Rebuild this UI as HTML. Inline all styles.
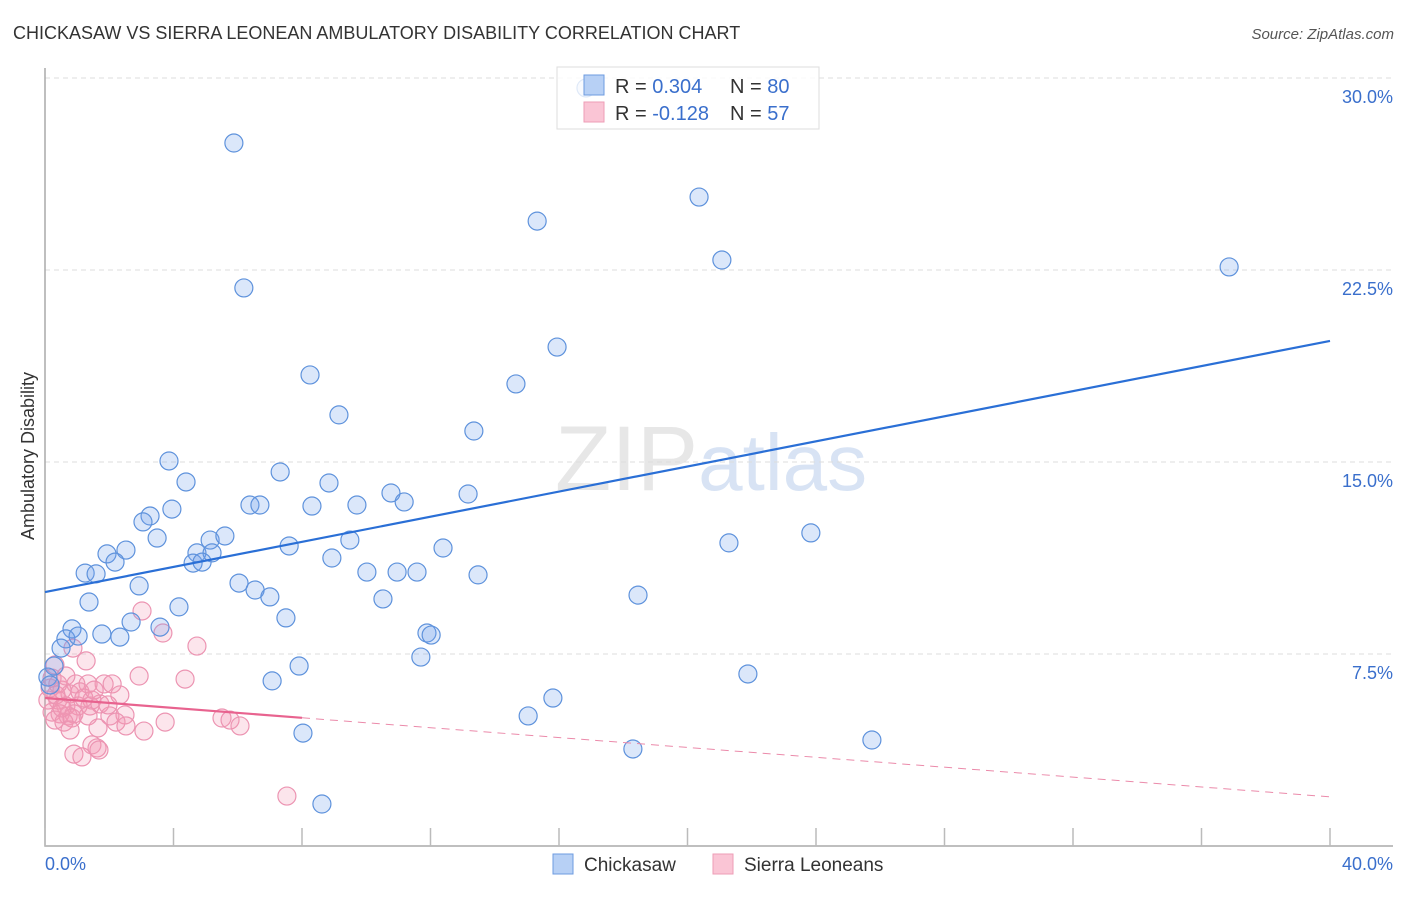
<!DOCTYPE html>
<html><head><meta charset="utf-8"><style>
body{margin:0;background:#fff;font-family:"Liberation Sans",sans-serif}
svg text{font-family:"Liberation Sans",sans-serif}
</style></head><body>
<svg id="c" width="1406" height="892" xmlns="http://www.w3.org/2000/svg">
<text x="13" y="39" font-size="18" fill="#333">CHICKASAW VS SIERRA LEONEAN AMBULATORY DISABILITY CORRELATION CHART</text>
<text x="1394" y="39" font-size="15" fill="#555" text-anchor="end" font-style="italic">Source: ZipAtlas.com</text>
<text x="555" y="490" font-size="92" fill="#ddd" font-family="Liberation Serif" opacity="0.7">ZIP<tspan fill="#c8d8f0" font-family="Liberation Sans" font-size="80">atlas</tspan></text>
<text transform="translate(34,456) rotate(-90)" font-size="18" fill="#333" text-anchor="middle">Ambulatory Disability</text>
<g id="grid"></g><g id="pts"></g><g id="lines"></g>
<g>
<rect x="557" y="67" width="262" height="62" fill="#fff" fill-opacity="0.8" stroke="#ddd"/>
<rect x="584" y="75" width="20" height="20" fill="#b7d0f5" stroke="#6d9be0"/>
<rect x="584" y="102" width="20" height="20" fill="#fac5d5" stroke="#ee9db6"/>
<text x="615" y="93" font-size="20" fill="#333">R = <tspan fill="#3a6fcc">0.304</tspan><tspan x="730">N = </tspan><tspan fill="#3a6fcc">80</tspan></text>
<text x="615" y="120" font-size="20" fill="#333">R = <tspan fill="#3a6fcc">-0.128</tspan><tspan x="730">N = </tspan><tspan fill="#3a6fcc"> 57</tspan></text>
</g>
<g>
<rect x="553" y="854" width="20" height="20" fill="#b7d0f5" stroke="#6d9be0"/>
<text x="584" y="871" font-size="19" fill="#333">Chickasaw</text>
<rect x="713" y="854" width="20" height="20" fill="#fac5d5" stroke="#ee9db6"/>
<text x="744" y="871" font-size="19" fill="#333">Sierra Leoneans</text>
</g>
</svg>
<script>
const yTicks=[7.5,15,22.5,30];
const xTickLabels=["0.0%","40.0%"];
const blueX=[],blueY=[],pinkX=[],pinkY=[];
const bluePx=[[586,88],[234,143],[699,197],[537,221],[722,260],[1229,267],[244,288],[557,347],[516,384],[310,375],[339,415],[474,431],[169,461],[280,472],[186,482],[329,483],[391,493],[468,494],[404,502],[250,505],[260,505],[312,506],[357,505],[172,509],[150,516],[143,522],[157,538],[210,540],[225,536],[350,540],[289,546],[811,533],[729,543],[443,548],[126,550],[107,554],[115,562],[197,553],[212,553],[193,563],[202,562],[332,558],[85,573],[96,574],[367,572],[397,572],[417,572],[478,575],[239,583],[139,586],[255,590],[270,597],[383,599],[638,595],[89,602],[179,607],[286,618],[131,622],[160,627],[72,629],[102,634],[120,637],[66,639],[78,636],[427,633],[431,635],[61,648],[421,657],[54,666],[299,666],[748,674],[272,681],[553,698],[528,716],[303,733],[633,749],[872,740],[322,804],[48,677],[50,685]];
const pinkPx=[[142,611],[163,633],[197,646],[73,648],[86,661],[55,665],[139,676],[185,679],[104,684],[112,684],[76,684],[88,684],[50,688],[62,690],[70,694],[80,692],[92,700],[58,700],[66,706],[78,706],[90,706],[100,704],[52,712],[60,714],[68,716],[74,714],[110,716],[125,715],[88,716],[55,720],[64,722],[72,718],[116,722],[165,722],[222,718],[230,720],[240,726],[144,731],[126,726],[70,730],[98,728],[92,745],[97,748],[74,754],[82,757],[99,750],[287,796],[52,678],[48,700],[58,684],[66,676],[120,695],[108,705],[56,695],[84,698],[62,708],[94,690]];
bluePx.forEach(p=>{blueX.push(+((p[0]-45)/1285*40).toFixed(2));blueY.push(+((846-p[1])/25.6).toFixed(2));});
pinkPx.forEach(p=>{pinkX.push(+((p[0]-45)/1285*40).toFixed(2));pinkY.push(+((846-p[1])/25.6).toFixed(2));});
const blueTrend=[9.92,19.73];
const pinkTrend=[5.78,1.92];
const X=v=>45+v/40*1285, Y=v=>846-v*25.6;
const NS="http://www.w3.org/2000/svg";
function mk(t,a,parent){const e=document.createElementNS(NS,t);for(const k in a)e.setAttribute(k,a[k]);document.getElementById(parent).appendChild(e);return e;}
yTicks.forEach(t=>{
 const g=mk('line',{x1:45,x2:1393,y1:Y(t),y2:Y(t),stroke:'#ddd','stroke-dasharray':'5,4'},'grid');
 
 
 const l=mk('text',{x:1393,y:Y(t)+25,'font-size':18,fill:'#3a6fcc','text-anchor':'end'},'grid');
 
 
 l.textContent=t.toFixed(1)+'%';
});
const ax=mk('path',{d:'M45 68V846H1393',stroke:'#aaa',fill:'none','stroke-width':1.5},'grid');


for(let i=0;i<=10;i++){const t=mk('line',{x1:X(i*4),x2:X(i*4),y1:828,y2:846,stroke:'#bbb','stroke-width':1.5},'grid');
 
 }
[[0,'start'],[40,'end']].forEach((d,i)=>{const t=mk('text',{x:i?1393:45,y:870,'font-size':18,fill:'#3a6fcc','text-anchor':d[1]},'grid');
 
 
 t.textContent=xTickLabels[i];});
pinkX.forEach((x,i)=>{const c=mk('circle',{cx:X(x),cy:Y(pinkY[i]),r:9,fill:'rgba(244,150,180,0.25)',stroke:'#ec94b2','stroke-width':1.2},'pts');
 
 });
blueX.forEach((x,i)=>{const c=mk('circle',{cx:X(x),cy:Y(blueY[i]),r:9,fill:'rgba(110,160,235,0.25)',stroke:'#5e92dc','stroke-width':1.2},'pts');
 
 });
const bl=mk('line',{x1:X(0),y1:Y(blueTrend[0]),x2:X(40),y2:Y(blueTrend[1]),stroke:'#2a6fd6','stroke-width':2.2},'lines');


const pm=pinkTrend[0]+(pinkTrend[1]-pinkTrend[0])*8/40;
const pl=mk('line',{x1:X(0),y1:Y(pinkTrend[0]),x2:X(8),y2:Y(pm),stroke:'#e8638f','stroke-width':2.2},'lines');


const pd=mk('line',{x1:X(8),y1:Y(pm),x2:X(40),y2:Y(pinkTrend[1]),stroke:'#eb8aaa','stroke-width':1,'stroke-dasharray':'8,6'},'lines');


</script>
</body></html>
